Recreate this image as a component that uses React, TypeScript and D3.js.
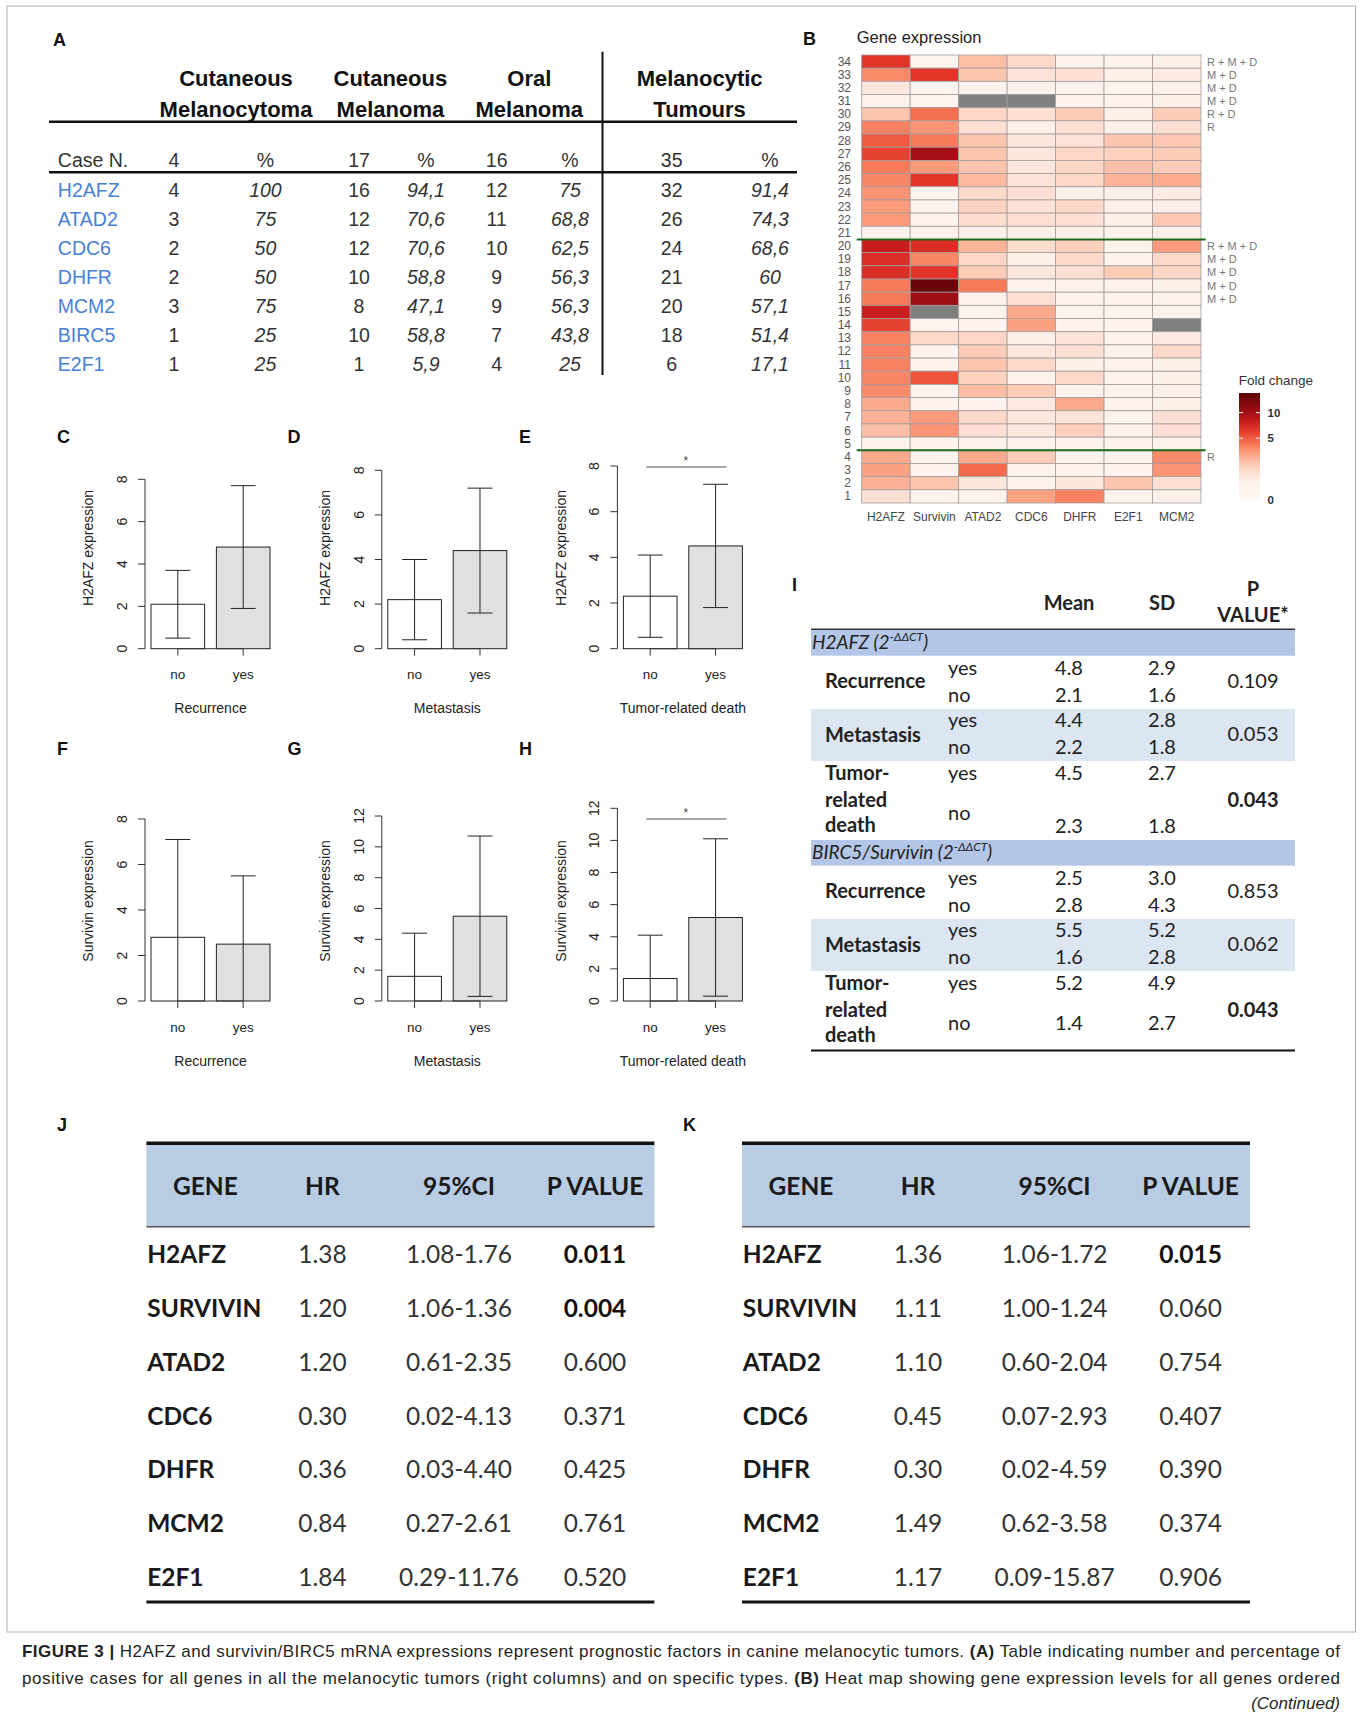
import React from "react";
import * as d3 from "d3";

const SANS = "'Liberation Sans', Arial, Helvetica, sans-serif";
const CALI = "Lato, 'Open Sans', sans-serif";

// ---- Panel A: positive cases per tumour type ----
const geneNamesA = ["H2AFZ", "ATAD2", "CDC6", "DHFR", "MCM2", "BIRC5", "E2F1"];
const caseN = ["4", "17", "16", "35"];
const melanocytomaN = ["4", "3", "2", "2", "3", "1", "1"];
const melanocytomaPct = ["100", "75", "50", "50", "75", "25", "25"];
const cutMelanomaN = ["16", "12", "12", "10", "8", "10", "1"];
const cutMelanomaPct = ["94,1", "70,6", "70,6", "58,8", "47,1", "58,8", "5,9"];
const oralN = ["12", "11", "10", "9", "9", "7", "4"];
const oralPct = ["75", "68,8", "62,5", "56,3", "56,3", "43,8", "25"];
const tumoursN = ["32", "26", "24", "21", "20", "18", "6"];
const tumoursPct = ["91,4", "74,3", "68,6", "60", "57,1", "51,4", "17,1"];

// ---- Panel B: heat map (fold change), rows case 34 -> 1 ----
const heatGenes = ["H2AFZ", "Survivin", "ATAD2", "CDC6", "DHFR", "E2F1", "MCM2"];
const heatCases = [34, 33, 32, 31, 30, 29, 28, 27, 26, 25, 24, 23, 22, 21, 20, 19, 18, 17, 16, 15, 14, 13, 12, 11, 10, 9, 8, 7, 6, 5, 4, 3, 2, 1];
const heatValues: (number | null)[][] = [
    [6.5, 0.2, 2.0, 1.2, 0.3, 0.3, 0.4],
    [3.5, 6.5, 1.8, 0.9, 1.0, 0.4, 0.6],
    [0.7, 0.2, 0.3, 0.3, 0.3, 0.3, 0.4],
    [0.3, 0.2, null, null, 0.3, 0.3, 0.4],
    [1.8, 4.3, 1.3, 1.0, 1.6, 0.4, 1.6],
    [3.8, 3.2, 1.0, 0.4, 1.0, 0.4, 1.0],
    [5.0, 4.0, 1.8, 0.8, 0.9, 1.8, 1.7],
    [6.0, 10.0, 1.8, 0.8, 1.3, 1.4, 1.6],
    [4.0, 3.0, 1.8, 0.8, 1.3, 1.9, 1.6],
    [3.6, 6.5, 2.1, 0.9, 1.3, 2.3, 2.5],
    [3.2, 0.2, 1.2, 1.0, 0.4, 0.4, 0.6],
    [3.0, 0.2, 1.4, 0.9, 1.2, 0.4, 0.5],
    [3.0, 0.3, 1.1, 1.0, 1.0, 0.4, 1.7],
    [0.3, 0.3, 0.4, 0.4, 0.4, 0.3, 0.4],
    [8.0, 7.0, 2.3, 1.1, 1.5, 0.3, 3.0],
    [7.0, 3.6, 1.3, 0.4, 1.2, 0.3, 1.2],
    [7.0, 6.5, 1.6, 0.8, 1.0, 1.6, 1.3],
    [4.0, 14.0, 4.0, 0.3, 0.3, 0.3, 0.4],
    [4.0, 10.5, 0.3, 1.0, 0.3, 0.3, 0.3],
    [8.0, null, 0.3, 2.6, 0.3, 0.3, 0.3],
    [6.0, 0.2, 0.3, 2.8, 0.3, 0.3, null],
    [3.8, 1.2, 1.3, 0.4, 0.9, 0.3, 0.6],
    [3.8, 0.3, 1.6, 0.8, 1.0, 0.3, 1.2],
    [3.8, 0.3, 1.8, 1.2, 0.4, 0.3, 0.4],
    [3.6, 5.2, 1.4, 0.3, 1.2, 0.3, 0.4],
    [3.5, 0.3, 2.0, 1.6, 0.3, 0.3, 0.4],
    [2.6, 0.3, 0.3, 0.7, 2.6, 0.3, 0.4],
    [2.4, 3.0, 1.2, 0.8, 0.9, 0.3, 1.0],
    [2.0, 3.2, 1.0, 0.7, 1.5, 0.3, 1.0],
    [0.3, 0.3, 0.3, 0.3, 0.3, 0.3, 0.3],
    [2.6, 0.3, 2.6, 1.6, 0.3, 0.3, 3.5],
    [2.8, 0.3, 4.5, 0.3, 0.3, 0.3, 3.2],
    [2.4, 1.8, 0.8, 0.3, 0.8, 1.8, 1.0],
    [1.0, 0.3, 0.3, 2.8, 3.8, 0.3, 0.4],
];
const outcomeCases = [34, 33, 32, 31, 30, 29, 20, 19, 18, 17, 16, 4];
const outcomeTags = ["R + M + D", "M + D", "M + D", "M + D", "R + D", "R", "R + M + D", "M + D", "M + D", "M + D", "M + D", "R"];
const groupBreakAfter = [21, 5];
const legendTicks = [0, 5, 10];

// ---- Panel I and bar plots C-H ----
const outcomes = ["Recurrence", "Metastasis", "Tumor-related death"];
const h2afzYesMean = [4.8, 4.4, 4.5];
const h2afzNoMean = [2.1, 2.2, 2.3];
const h2afzYesSd = [2.9, 2.8, 2.7];
const h2afzNoSd = [1.6, 1.8, 1.8];
const h2afzP = [0.109, 0.053, 0.043];
const survYesMean = [2.5, 5.5, 5.2];
const survNoMean = [2.8, 1.6, 1.4];
const survYesSd = [3.0, 5.2, 4.9];
const survNoSd = [4.3, 2.8, 2.7];
const survP = [0.853, 0.062, 0.043];

// ---- Panels J / K ----
const hrGenes = ["H2AFZ", "SURVIVIN", "ATAD2", "CDC6", "DHFR", "MCM2", "E2F1"];
const jHR = ["1.38", "1.20", "1.20", "0.30", "0.36", "0.84", "1.84"];
const jCI = ["1.08-1.76", "1.06-1.36", "0.61-2.35", "0.02-4.13", "0.03-4.40", "0.27-2.61", "0.29-11.76"];
const jP = ["0.011", "0.004", "0.600", "0.371", "0.425", "0.761", "0.520"];
const kHR = ["1.36", "1.11", "1.10", "0.45", "0.30", "1.49", "1.17"];
const kCI = ["1.06-1.72", "1.00-1.24", "0.60-2.04", "0.07-2.93", "0.02-4.59", "0.62-3.58", "0.09-15.87"];
const kP = ["0.015", "0.060", "0.754", "0.407", "0.390", "0.374", "0.906"];

const heatColor = d3.scaleLinear<string>()
    .domain([0, 0.5, 1, 2, 3, 4, 5, 6.5, 8, 10, 15])
    .range(["#fff7f3", "#fdeee7", "#fde0d3", "#fcbea5", "#fb9b7b", "#f77a5a", "#f05a3e", "#e2352a", "#c91d1d", "#a50f15", "#5a0208"])
    .clamp(true);

const Letter = ({ x, y, t }: { x: number; y: number; t: string }) => (
    <text x={x} y={y} fontFamily={SANS} fontWeight="bold" fontSize={18} fill="#111">{t}</text>
);

function PanelA() {
    const row = d3.scalePoint<string>().domain(geneNamesA).range([196.7, 370.7]);
    const cols = [174, 265.4, 359, 426, 496.7, 570, 671.7, 770];
    const series = [melanocytomaN, melanocytomaPct, cutMelanomaN, cutMelanomaPct, oralN, oralPct, tumoursN, tumoursPct];
    const heads = [["Cutaneous", "Melanocytoma", 236], ["Cutaneous", "Melanoma", 390.4], ["Oral", "Melanoma", 529.3], ["Melanocytic", "Tumours", 699.6]] as const;
    return (
        <g fontFamily={SANS}>
            <Letter x={53} y={46} t="A" />
            {heads.map(([a, b, x], i) => (
                <g key={i} fontWeight="bold" fontSize={22} fill="#111" textAnchor="middle">
                    <text x={x} y={85.5}>{a}</text>
                    <text x={x} y={116.7}>{b}</text>
                </g>
            ))}
            <line x1={49} x2={797} y1={121.7} y2={121.7} stroke="#111" strokeWidth={2.6} />
            <line x1={49} x2={797} y1={172.3} y2={172.3} stroke="#111" strokeWidth={2.6} />
            <line x1={602.5} x2={602.5} y1={51.7} y2={375} stroke="#111" strokeWidth={2} />
            <g fontSize={19.5} fill="#333">
                <text x={57.8} y={167.3}>Case N.</text>
                {cols.map((x, i) => (
                    <text key={i} x={x} y={167.3} textAnchor="middle">{i % 2 === 0 ? caseN[i / 2] : "%"}</text>
                ))}
                {geneNamesA.map((g, r) => (
                    <g key={g}>
                        <text x={57.8} y={row(g)} fill="#4a80d6">{g}</text>
                        {series.map((s, c) => (
                            <text key={c} x={cols[c]} y={row(g)} textAnchor="middle" fontStyle={c % 2 ? "italic" : "normal"}>{s[r]}</text>
                        ))}
                    </g>
                ))}
            </g>
        </g>
    );
}

function PanelB() {
    const x = d3.scaleBand<string>().domain(heatGenes).range([861.7, 1201]);
    const y = d3.scaleBand<string>().domain(heatCases.map(String)).range([55, 503]);
    const legendY = d3.scaleSqrt().domain([0, 15]).range([500, 393]);
    const stops = d3.range(0, 1.0001, 0.05).map((o) => ({ o, c: heatColor(legendY.invert(393 + o * 107)) }));
    return (
        <g fontFamily={SANS}>
            <defs>
                <linearGradient id="fc" x1="0" y1="0" x2="0" y2="1">
                    {stops.map((s, i) => <stop key={i} offset={s.o} stopColor={s.c} />)}
                </linearGradient>
            </defs>
            <Letter x={803} y={45} t="B" />
            <text x={856.7} y={42.7} fontSize={16.5} fill="#222">Gene expression</text>
            {heatCases.map((c, r) => (
                <g key={c}>
                    {heatGenes.map((g, j) => {
                        const v = heatValues[r][j];
                        return (
                            <rect key={g} x={x(g)} y={y(String(c))} width={x.bandwidth()} height={y.bandwidth()}
                                fill={v === null ? "#808080" : heatColor(v)} stroke="#a39d9d" strokeWidth={0.8} />
                        );
                    })}
                    <text x={851} y={(y(String(c)) ?? 0) + y.bandwidth() / 2 + 4} fontSize={12} fill="#555" textAnchor="end">{c}</text>
                </g>
            ))}
            {outcomeCases.map((c, i) => (
                <text key={c} x={1207} y={(y(String(c)) ?? 0) + y.bandwidth() / 2 + 4} fontSize={11} fill="#777">{outcomeTags[i]}</text>
            ))}
            {groupBreakAfter.map((c) => {
                const yy = (y(String(c)) ?? 0) + y.bandwidth();
                return <line key={c} x1={856.7} x2={1205.7} y1={yy} y2={yy} stroke="#1d6a1d" strokeWidth={2} />;
            })}
            {heatGenes.map((g) => (
                <text key={g} x={(x(g) ?? 0) + x.bandwidth() / 2} y={521} fontSize={12} fill="#444" textAnchor="middle">{g}</text>
            ))}
            <text x={1238.7} y={385} fontSize={13.5} fill="#333">Fold change</text>
            <rect x={1239} y={393} width={21} height={107} fill="url(#fc)" />
            {legendTicks.map((t) => (
                <g key={t}>
                    {t > 0 && (
                        <g stroke="#fff" strokeWidth={1}>
                            <line x1={1239} x2={1243} y1={legendY(t)} y2={legendY(t)} />
                            <line x1={1256} x2={1260} y1={legendY(t)} y2={legendY(t)} />
                        </g>
                    )}
                    <text x={1267.5} y={legendY(t) + 4} fontSize={11.5} fontWeight="bold" fill="#333">{t}</text>
                </g>
            ))}
        </g>
    );
}

interface BarCfg {
    letter: string; lx: number; ly: number; axisX: number; y0: number; yTop: number; max: number;
    survivin: boolean; k: number; titleY: number; noY: number; xtY: number; sigY: number;
}

const barPanels: BarCfg[] = [
    { letter: "C", lx: 57, ly: 443, axisX: 145, y0: 648.7, yTop: 479.3, max: 8, survivin: false, k: 0, titleY: 548, noY: 679, xtY: 713, sigY: 467 },
    { letter: "D", lx: 287.5, ly: 443, axisX: 381.8, y0: 648.7, yTop: 470.3, max: 8, survivin: false, k: 1, titleY: 548, noY: 679, xtY: 713, sigY: 467 },
    { letter: "E", lx: 519, ly: 443, axisX: 617.4, y0: 648.7, yTop: 466, max: 8, survivin: false, k: 2, titleY: 548, noY: 679, xtY: 713, sigY: 467 },
    { letter: "F", lx: 57, ly: 755, axisX: 145, y0: 1001, yTop: 819, max: 8, survivin: true, k: 0, titleY: 901, noY: 1032, xtY: 1066, sigY: 819 },
    { letter: "G", lx: 287.5, ly: 755, axisX: 381.8, y0: 1001, yTop: 816, max: 12, survivin: true, k: 1, titleY: 901, noY: 1032, xtY: 1066, sigY: 819 },
    { letter: "H", lx: 519, ly: 755, axisX: 617.4, y0: 1001, yTop: 808.3, max: 12, survivin: true, k: 2, titleY: 901, noY: 1032, xtY: 1066, sigY: 819 },
];

function BarPanel({ cfg }: { cfg: BarCfg }) {
    const { axisX, y0, yTop, max, k } = cfg;
    const means = cfg.survivin ? [survNoMean[k], survYesMean[k]] : [h2afzNoMean[k], h2afzYesMean[k]];
    const sds = cfg.survivin ? [survNoSd[k], survYesSd[k]] : [h2afzNoSd[k], h2afzYesSd[k]];
    const p = cfg.survivin ? survP[k] : h2afzP[k];
    const y = d3.scaleLinear().domain([0, max]).range([y0, yTop]);
    const x = d3.scaleBand<string>().domain(["no", "yes"]).range([axisX + 6, axisX + 125]).paddingInner(0.18);
    const cx = (c: string) => (x(c) ?? 0) + x.bandwidth() / 2;
    return (
        <g fontFamily={SANS} fill="#222">
            <Letter x={cfg.lx} y={cfg.ly} t={cfg.letter} />
            <line x1={axisX} x2={axisX} y1={y(0)} y2={y(max)} stroke="#333" />
            {y.ticks(max / 2).map((t) => (
                <g key={t}>
                    <line x1={axisX - 7} x2={axisX} y1={y(t)} y2={y(t)} stroke="#333" />
                    <text transform={`translate(${axisX - 18},${y(t)}) rotate(-90)`} textAnchor="middle" fontSize={14}>{t}</text>
                </g>
            ))}
            <text transform={`translate(${axisX - 51.6},${cfg.titleY}) rotate(-90)`} textAnchor="middle" fontSize={14}>
                {cfg.survivin ? "Survivin expression" : "H2AFZ expression"}
            </text>
            {x.domain().map((c, i) => {
                const lo = means[i] - sds[i];
                const hi = means[i] + sds[i];
                return (
                    <g key={c}>
                        <rect x={x(c)} y={y(means[i])} width={x.bandwidth()} height={y0 - y(means[i])}
                            fill={i === 0 ? "#fff" : "#e0e0e0"} stroke="#222" strokeWidth={1} />
                        <line x1={cx(c)} x2={cx(c)} y1={y(Math.max(0, lo))} y2={y(hi)} stroke="#222" />
                        <line x1={cx(c) - 12.5} x2={cx(c) + 12.5} y1={y(hi)} y2={y(hi)} stroke="#222" />
                        {lo > 0 && <line x1={cx(c) - 12.5} x2={cx(c) + 12.5} y1={y(lo)} y2={y(lo)} stroke="#222" />}
                        <line x1={cx(c)} x2={cx(c)} y1={y0} y2={y0 + 7} stroke="#333" />
                        <text x={cx(c)} y={cfg.noY} textAnchor="middle" fontSize={13.5}>{c}</text>
                    </g>
                );
            })}
            <line x1={cx("no")} x2={cx("yes")} y1={y0} y2={y0} stroke="#333" />
            <text x={(cx("no") + cx("yes")) / 2} y={cfg.xtY} textAnchor="middle" fontSize={14}>{outcomes[k]}</text>
            {p < 0.05 && (
                <g>
                    <line x1={cx("no") - 4} x2={cx("yes") + 11} y1={cfg.sigY} y2={cfg.sigY} stroke="#8c8c8c" strokeWidth={1.5} />
                    <text x={(cx("no") + cx("yes")) / 2 + 3} y={cfg.sigY - 2} textAnchor="middle" fontSize={12} fill="#444">*</text>
                </g>
            )}
        </g>
    );
}

function StatBlock({ top, gene, yesM, noM, yesS, noS, pv, noDy }: {
    top: number; gene: string; yesM: number[]; noM: number[]; yesS: number[]; noS: number[]; pv: number[]; noDy: number;
}) {
    const L = 811;
    const R = 1295;
    const rowsTop = [top + 45, top + 97.3, top + 150];
    const rowsNo = [top + 71.7, top + 124, top + noDy];
    const labelY = [top + 58.3, top + 111.7];
    const pY = [top + 58, top + 111, top + 176.5];
    return (
        <g fontFamily={CALI} fill="#222">
            <rect x={L} y={top} width={R - L} height={25.7} fill="#b4c6e7" />
            <rect x={L} y={top + 79} width={R - L} height={52} fill="#dce6f2" />
            <text x={L + 1} y={top + 18.5} fontStyle="italic" fontSize={19}>
                {gene} (2<tspan fontSize={12} dy={-8}>-ΔΔCT</tspan><tspan dy={8}>)</tspan>
            </text>
            {outcomes.map((o, i) => (
                <g key={o}>
                    {i < 2 ? (
                        <text x={825} y={labelY[i]} fontWeight="bold" fontSize={20}>{o}</text>
                    ) : (
                        <g fontWeight="bold" fontSize={20}>
                            <text x={825} y={top + 150}>Tumor-</text>
                            <text x={825} y={top + 176.7}>related</text>
                            <text x={825} y={top + 201.7}>death</text>
                        </g>
                    )}
                    <text x={948} y={rowsTop[i]} fontSize={20}>yes</text>
                    <text x={948} y={i < 2 ? rowsNo[i] : top + 190} fontSize={20}>no</text>
                    <text x={1069} y={rowsTop[i]} fontSize={20} textAnchor="middle">{yesM[i].toFixed(1)}</text>
                    <text x={1162} y={rowsTop[i]} fontSize={20} textAnchor="middle">{yesS[i].toFixed(1)}</text>
                    <text x={1069} y={rowsNo[i]} fontSize={20} textAnchor="middle">{noM[i].toFixed(1)}</text>
                    <text x={1162} y={rowsNo[i]} fontSize={20} textAnchor="middle">{noS[i].toFixed(1)}</text>
                    <text x={1253} y={pY[i]} fontSize={20} textAnchor="middle" fontWeight={pv[i] < 0.05 ? "bold" : "normal"}>{pv[i].toFixed(3)}</text>
                </g>
            ))}
        </g>
    );
}

function PanelI() {
    return (
        <g>
            <Letter x={792} y={591} t="I" />
            <g fontFamily={CALI} fontWeight="bold" fontSize={20} fill="#222" textAnchor="middle">
                <text x={1069} y={610}>Mean</text>
                <text x={1162} y={610}>SD</text>
                <text x={1253} y={596}>P</text>
                <text x={1253} y={622}>VALUE*</text>
            </g>
            <line x1={811} x2={1295} y1={629.3} y2={629.3} stroke="#333" strokeWidth={1.5} />
            <StatBlock top={630} gene="H2AFZ" yesM={h2afzYesMean} noM={h2afzNoMean} yesS={h2afzYesSd} noS={h2afzNoSd} pv={h2afzP} noDy={203.3} />
            <StatBlock top={840} gene="BIRC5/Survivin" yesM={survYesMean} noM={survNoMean} yesS={survYesSd} noS={survNoSd} pv={survP} noDy={190} />
            <line x1={811} x2={1295} y1={1050.6} y2={1050.6} stroke="#111" strokeWidth={2} />
        </g>
    );
}

function HazardTable({ left, letterX, hr, ci, p }: { left: number; letterX: number; hr: string[]; ci: string[]; p: string[] }) {
    const right = left + 508;
    const row = d3.scalePoint<string>().domain(hrGenes).range([1263.3, 1585.7]);
    const cols = [left + 176, left + 312.6, left + 448.6];
    return (
        <g fontFamily={CALI} fill="#1a1a1a">
            <Letter x={letterX} y={1130.7} t={letterX < 300 ? "J" : "K"} />
            <rect x={left} y={1145} width={right - left} height={81.7} fill="#b8cce4" />
            <line x1={left} x2={right} y1={1143.3} y2={1143.3} stroke="#111" strokeWidth={3.5} />
            <line x1={left} x2={right} y1={1226.7} y2={1226.7} stroke="#555" strokeWidth={1.5} />
            <line x1={left} x2={right} y1={1602} y2={1602} stroke="#111" strokeWidth={3} />
            <g fontWeight="bold" fontSize={24.5} textAnchor="middle">
                <text x={left + 59} y={1195}>GENE</text>
                <text x={cols[0]} y={1195}>HR</text>
                <text x={cols[1]} y={1195}>95%CI</text>
                <text x={cols[2]} y={1195}>P VALUE</text>
            </g>
            {hrGenes.map((g, i) => (
                <g key={g} fontSize={24.5}>
                    <text x={left + 0.8} y={row(g)} fontWeight="bold">{g}</text>
                    <text x={cols[0]} y={row(g)} textAnchor="middle" fill="#333">{hr[i]}</text>
                    <text x={cols[1]} y={row(g)} textAnchor="middle" fill="#333">{ci[i]}</text>
                    <text x={cols[2]} y={row(g)} textAnchor="middle" fontWeight={parseFloat(p[i]) < 0.05 ? "bold" : "normal"} fill={parseFloat(p[i]) < 0.05 ? "#111" : "#333"}>{p[i]}</text>
                </g>
            ))}
        </g>
    );
}

function Caption() {
    return (
        <g fontFamily={SANS} fontSize={17} fill="#231f20">
            <text x={22} y={1657} textLength={1318} lengthAdjust="spacing">
                <tspan fontWeight="bold">FIGURE 3 |</tspan> H2AFZ and survivin/BIRC5 mRNA expressions represent prognostic factors in canine melanocytic tumors. <tspan fontWeight="bold">(A)</tspan> Table indicating number and percentage of
            </text>
            <text x={22} y={1684} textLength={1318} lengthAdjust="spacing">
                positive cases for all genes in all the melanocytic tumors (right columns) and on specific types. <tspan fontWeight="bold">(B)</tspan> Heat map showing gene expression levels for all genes ordered
            </text>
            <text x={1340} y={1709} textAnchor="end" fontStyle="italic">(Continued)</text>
        </g>
    );
}

export default function App() {
    return (
        <div style={{ position: "absolute", left: 0, top: 0 }}>
            <svg width={1362} height={1719} xmlns="http://www.w3.org/2000/svg">
                <rect width={1362} height={1719} fill="#fff" />
                <rect x={7} y={6} width={1348.5} height={1626} fill="none" stroke="#b0b0b0" strokeWidth={1} />
                <PanelA />
                <PanelB />
                {barPanels.map((c) => <BarPanel key={c.letter} cfg={c} />)}
                <PanelI />
                <HazardTable left={146.4} letterX={57} hr={jHR} ci={jCI} p={jP} />
                <HazardTable left={742} letterX={683} hr={kHR} ci={kCI} p={kP} />
                <Caption />
            </svg>
        </div>
    );
}
